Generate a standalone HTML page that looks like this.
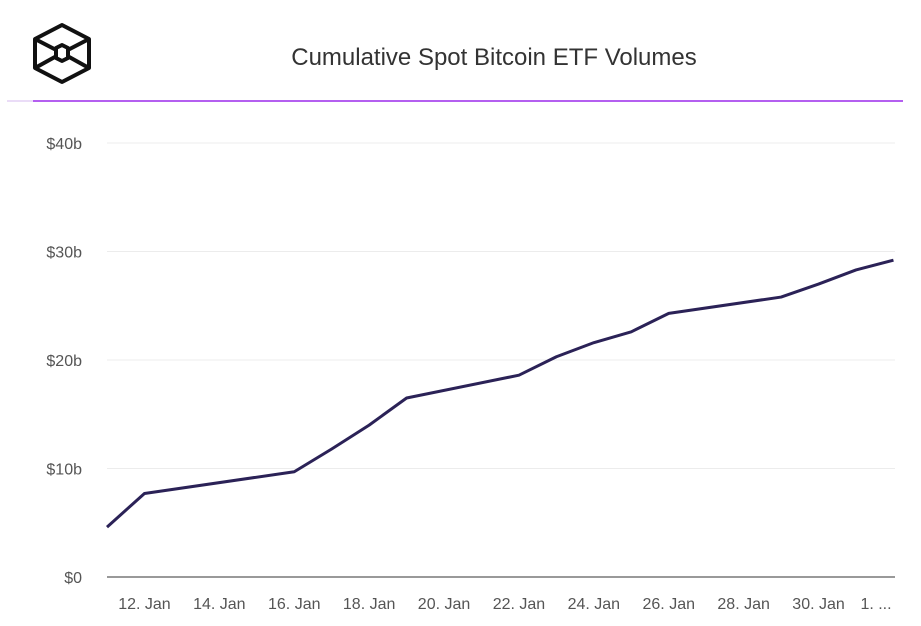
<!DOCTYPE html>
<html><head><meta charset="utf-8"><style>
body{margin:0;background:#fff;font-family:"Liberation Sans",sans-serif;}
svg text{font-family:"Liberation Sans",sans-serif;}
</style></head><body>
<svg width="921" height="621">
<g fill="none" stroke="#111" stroke-width="4" stroke-linejoin="round">
<polygon points="62,25 89,39 89,68 62,82 35,68 35,39"/>
<polyline points="35,39 62,53 89,39"/><polyline points="35,68 62,53 89,68"/>
<polygon points="56,48 62,45 68,48 68,58 62,61 56,58" fill="#fff"/>
</g>
<text x="494" y="65" text-anchor="middle" font-size="24" fill="#333">Cumulative Spot Bitcoin ETF Volumes</text>
<line x1="7" y1="101" x2="33" y2="101" stroke="#eadcf7" stroke-width="2"/>
<line x1="33" y1="101" x2="903" y2="101" stroke="#b45ff0" stroke-width="2"/>
<g id="grid"></g><g id="yl"></g><g id="xl"></g><g id="series"></g>
</svg>
<script>
const dates=["2024-01-11","2024-01-12","2024-01-16","2024-01-17","2024-01-18","2024-01-19","2024-01-22","2024-01-23","2024-01-24","2024-01-25","2024-01-26","2024-01-29","2024-01-30","2024-01-31","2024-02-01"];
const volumes=[4.6,7.7,9.7,11.8,14.0,16.5,18.6,20.3,21.6,22.6,24.3,25.8,27.0,28.3,29.2];
const yTicks=[0,10,20,30,40];
const yTickLabels=["$0","$10b","$20b","$30b","$40b"];
const xTicks=["2024-01-12","2024-01-14","2024-01-16","2024-01-18","2024-01-20","2024-01-22","2024-01-24","2024-01-26","2024-01-28","2024-01-30","2024-02-01"];
const xTickLabels=["12. Jan","14. Jan","16. Jan","18. Jan","20. Jan","22. Jan","24. Jan","26. Jan","28. Jan","30. Jan","1. ..."];
const NS="http://www.w3.org/2000/svg";
const t0=Date.parse("2024-01-11");
const x=d=>107+(Date.parse(d)-t0)/864e5*37.45;
const y=v=>577-v*10.85;
function mk(tag,attrs,parent){const e=document.createElementNS(NS,tag);for(const k in attrs)e.setAttribute(k,attrs[k]);document.getElementById(parent).appendChild(e);return e;}
yTicks.forEach((v,i)=>{
 const l=mk("line",{x1:107,x2:895,y1:y(v),y2:y(v),stroke:v===0?"#333":"#ececec","stroke-width":1},"grid");
 
 
 const t=mk("text",{x:82,y:y(v)+6,"text-anchor":"end","font-size":16,fill:"#555"},"yl");
 t.textContent=yTickLabels[i];
 
 
});
xTicks.forEach((d,i)=>{
 const t=mk("text",{x:Math.min(x(d),876),y:609,"text-anchor":"middle","font-size":16,fill:"#555"},"xl");
 t.textContent=xTickLabels[i];
 
 
});
const p=mk("polyline",{points:dates.map((d,i)=>x(d)+","+y(volumes[i])).join(" "),fill:"none",stroke:"#2b2257","stroke-width":3,"stroke-linejoin":"round"},"series");


</script>
</body></html>
